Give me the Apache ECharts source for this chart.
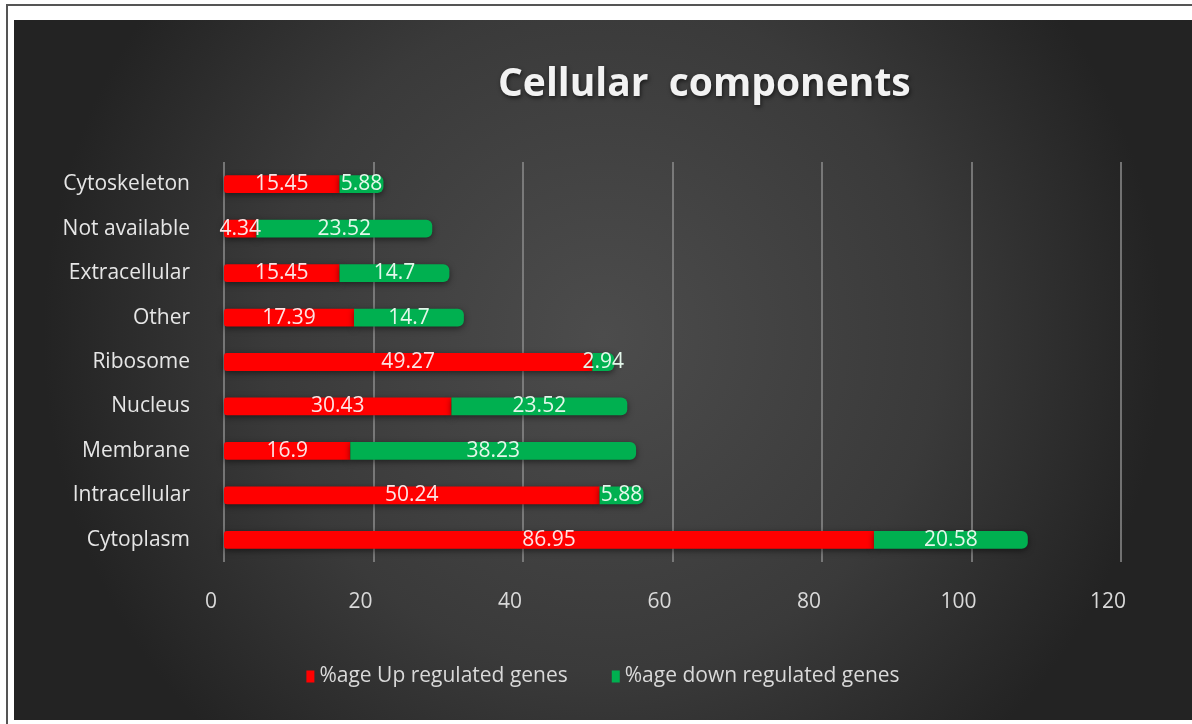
<!DOCTYPE html>
<html>
<head>
<meta charset="utf-8">
<script src="https://cdn.jsdelivr.net/npm/echarts@6/dist/echarts.min.js"></script>
<style>
  html, body { margin: 0; padding: 0; background: #fff; }
  #frame {
    position: absolute; left: 6px; top: 4px; width: 1190px; height: 724px;
    border: 2px solid #555; box-sizing: border-box;
  }
  #main { position: absolute; left: 14px; top: 20px; width: 1178px; height: 700px; }
</style>
</head>
<body>
<div id="frame"></div>
<div id="main"></div>
<script>
const categories = ['Cytoplasm', 'Intracellular', 'Membrane', 'Nucleus', 'Ribosome',
  'Other', 'Extracellular', 'Not available', 'Cytoskeleton'];
const upRegulated = [86.95, 50.24, 16.9, 30.43, 49.27, 17.39, 15.45, 4.34, 15.45];
const downRegulated = [20.58, 5.88, 38.23, 23.52, 2.94, 14.7, 14.7, 23.52, 5.88];
const xTicks = { min: 0, max: 120, interval: 20 };

const font = 'Open Sans';

const chart = echarts.init(document.getElementById('main'));

const option = {
  backgroundColor: {
    type: 'radial', x: 0.5, y: 0.45, r: 0.8,
    colorStops: [
      { offset: 0, color: '#4c4c4c' },
      { offset: 0.6, color: '#3a3a3a' },
      { offset: 1, color: '#232323' }
    ]
  },
  title: {
    text: 'Cellular  components',
    left: 479, top: 40,
    textStyle: {
      color: '#f2f2f2', fontFamily: font, fontWeight: 'bold', fontSize: 39,
      textShadowColor: 'rgba(0,0,0,0.6)', textShadowBlur: 4, textShadowOffsetX: 1, textShadowOffsetY: 2
    }
  },
  legend: {
    bottom: 28,
    left: 'center',
    itemWidth: 8, itemHeight: 12, itemGap: 44,
    icon: 'rect',
    textStyle: { color: '#d9d9d9', fontFamily: font, fontSize: 21 },
    data: ['%age Up regulated genes', '%age down regulated genes']
  },
  grid: { left: 210, right: 71, top: 142, bottom: 158 },
  xAxis: {
    type: 'value',
    min: xTicks.min, max: xTicks.max, interval: xTicks.interval,
    axisLine: { show: false },
    axisTick: { show: false },
    axisLabel: { color: '#d9d9d9', fontFamily: font, fontSize: 21, margin: 30, padding: [0, 26, 0, 0] },
    splitLine: { lineStyle: { color: '#8c8c8c', width: 1.5 } }
  },
  yAxis: {
    type: 'category',
    data: categories,
    axisLine: { show: false },
    axisTick: { show: false },
    axisLabel: { color: '#e6e6e6', fontFamily: font, fontSize: 21, margin: 34 }
  },
  series: [
    {
      name: '%age Up regulated genes',
      type: 'bar', stack: 'total', barWidth: '40%',
      data: upRegulated,
      itemStyle: {
        color: '#ff0000', borderRadius: [3, 0, 0, 3],
        shadowColor: 'rgba(0,0,0,0.5)', shadowBlur: 6, shadowOffsetY: 2
      },
      label: {
        show: true, position: 'inside', color: '#fbe4e4',
        fontFamily: font, fontSize: 21
      }
    },
    {
      name: '%age down regulated genes',
      type: 'bar', stack: 'total', barWidth: '40%',
      data: downRegulated,
      itemStyle: {
        color: '#00b050', borderRadius: [0, 6, 6, 0],
        shadowColor: 'rgba(0,0,0,0.5)', shadowBlur: 6, shadowOffsetY: 2
      },
      label: {
        show: true, position: 'inside', color: '#e3f7ea',
        fontFamily: font, fontSize: 21
      }
    }
  ]
};

chart.setOption(option);
</script>
</body>
</html>
